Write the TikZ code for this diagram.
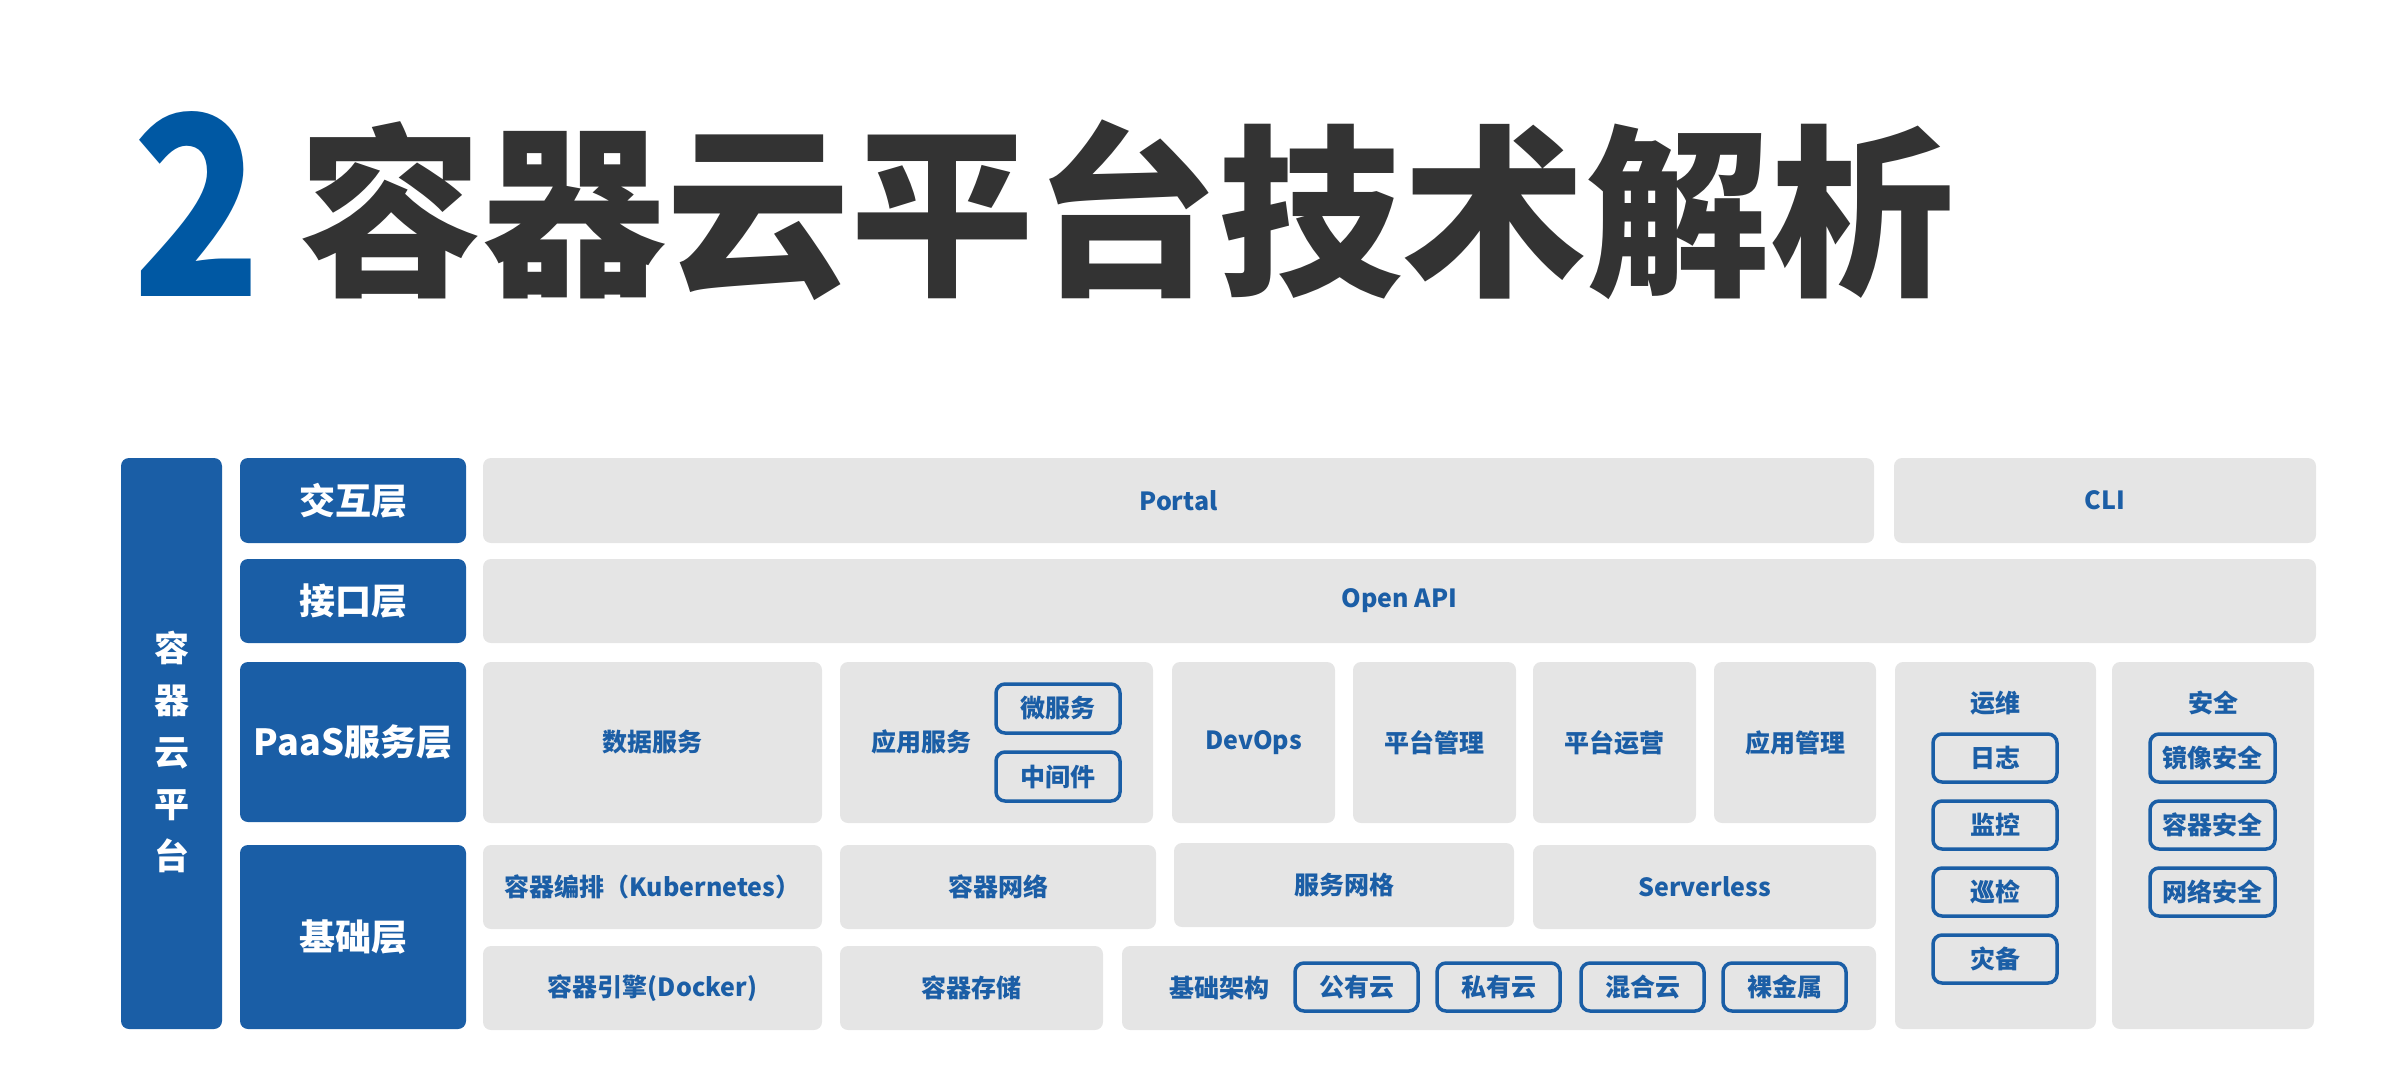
\documentclass[tikz,border=0pt]{standalone}
\usepackage{fontspec}
\setmainfont{Noto Sans CJK SC}
\definecolor{myblue}{RGB}{26,94,166}
\definecolor{txtblue}{RGB}{27,94,166}
\definecolor{mygray}{RGB}{229,229,229}
\definecolor{titledark}{RGB}{51,51,51}
\definecolor{twoblue}{RGB}{0,88,163}
\newcommand\bx[7]{\node[#6, minimum width={#4-#2}, minimum height={#5-#3}] (#1) at ({(#2+#4)/2},{(#3+#5)/2}) {#7};}
\begin{document}
\begin{tikzpicture}[x=1pt,y=-1pt,
  base/.style={inner sep=0pt, outer sep=0pt, rounded corners=8pt},
  blk/.style={base, fill=myblue, text=white, font=\fontsize{36}{40}\selectfont\bfseries},
  gbox/.style={base, fill=mygray, text=txtblue, font=\fontsize{25}{30}\selectfont\bfseries},
  ibox/.style={base, draw=myblue, line width=3.5pt, rounded corners=9pt, text=txtblue, font=\fontsize{25}{30}\selectfont\bfseries},
  lbl/.style={inner sep=0pt, outer sep=0pt, text=txtblue, font=\fontsize{25}{30}\selectfont\bfseries}]
\useasboundingbox (0,0) rectangle (2406,1070);
% title
\node[inner sep=0pt, anchor=base west, text=twoblue, font=\fontsize{250}{250}\selectfont\bfseries, xscale=0.85] (two) at (132,296) {2};
\node[inner sep=0pt, anchor=base west, text=titledark, font=\fontsize{184}{190}\selectfont\bfseries] (title) at (298,281) {容器云平台技术解析};
% left bar
\bx{side}{121}{458}{222}{1029}{blk}{}
\node[inner sep=0pt, text=white, align=center, font=\fontsize{35}{52}\selectfont\bfseries] (sidetxt) at (172,752) {容\\器\\云\\平\\台};
% layer labels
\bx{l1}{240}{458}{466}{543}{blk}{交互层}
\bx{l2}{240}{559}{466}{643}{blk}{接口层}
\bx{l3}{240}{662}{466}{822}{blk}{PaaS服务层}
\bx{l4}{240}{845}{466}{1029}{blk}{基础层}
% interaction layer
\bx{portal}{483}{458}{1874}{543}{gbox}{Portal}
\bx{cli}{1894}{458}{2316}{543}{gbox}{CLI}
% interface layer
\bx{api}{483}{559}{2316}{643}{gbox}{Open API}
% PaaS layer
\bx{data}{483}{662}{822}{823}{gbox}{数据服务}
\bx{app}{840}{662}{1153}{823}{gbox}{}
\node[lbl] (apptxt) at (921,742) {应用服务};
\bx{micro}{996}{684}{1120}{733}{ibox}{微服务}
\bx{mid}{996}{752}{1120}{801}{ibox}{中间件}
\bx{devops}{1172}{662}{1335}{823}{gbox}{DevOps}
\bx{pmgmt}{1353}{662}{1516}{823}{gbox}{平台管理}
\bx{pops}{1533}{662}{1696}{823}{gbox}{平台运营}
\bx{amgmt}{1714}{662}{1876}{823}{gbox}{应用管理}
% ops and security
\bx{ops}{1895}{662}{2096}{1029}{gbox}{}
\node[lbl] (opstxt) at (1995,703) {运维};
\bx{log}{1933}{734}{2057}{782}{ibox}{日志}
\bx{mon}{1933}{801}{2057}{849}{ibox}{监控}
\bx{ins}{1933}{868}{2057}{916}{ibox}{巡检}
\bx{dr}{1933}{935}{2057}{983}{ibox}{灾备}
\bx{sec}{2112}{662}{2314}{1029}{gbox}{}
\node[lbl] (sectxt) at (2213,703) {安全};
\bx{imgsec}{2150}{734}{2275}{782}{ibox}{镜像安全}
\bx{consec}{2150}{801}{2275}{849}{ibox}{容器安全}
\bx{netsec}{2150}{868}{2275}{916}{ibox}{网络安全}
% base layer row 1
\bx{k8s}{483}{845}{822}{929}{gbox}{容器编排（Kubernetes）}
\bx{cnet}{840}{845}{1156}{929}{gbox}{容器网络}
\bx{mesh}{1174}{843}{1514}{927}{gbox}{服务网格}
\bx{sless}{1533}{845}{1876}{929}{gbox}{Serverless}
% base layer row 2
\bx{docker}{483}{946}{822}{1030}{gbox}{容器引擎(Docker)}
\bx{store}{840}{946}{1103}{1030}{gbox}{容器存储}
\bx{infra}{1122}{946}{1876}{1030}{gbox}{}
\node[lbl] (infratxt) at (1219,988) {基础架构};
\bx{pub}{1295}{963}{1418}{1011}{ibox}{公有云}
\bx{priv}{1437}{963}{1560}{1011}{ibox}{私有云}
\bx{hyb}{1581}{963}{1704}{1011}{ibox}{混合云}
\bx{bare}{1723}{963}{1846}{1011}{ibox}{裸金属}
\end{tikzpicture}
\end{document}
